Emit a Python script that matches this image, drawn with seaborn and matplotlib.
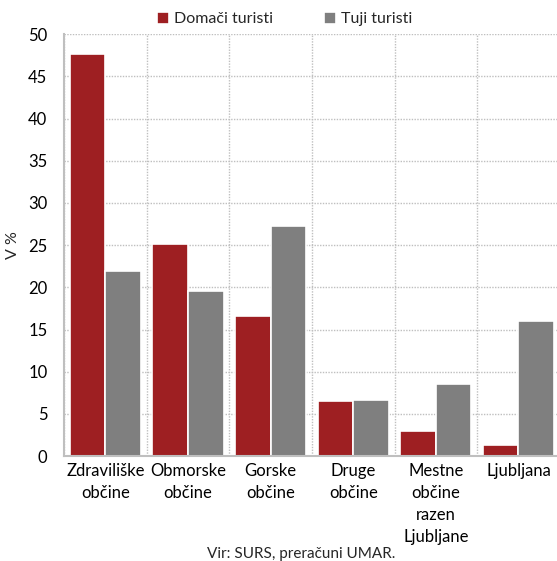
import pandas as pd
import seaborn as sns
import matplotlib.pyplot as plt
from matplotlib.ticker import MultipleLocator

# Podatki
kategorije = ["Zdraviliške\nobčine", "Obmorske\nobčine", "Gorske\nobčine",
              "Druge\nobčine", "Mestne\nobčine\nrazen\nLjubljane", "Ljubljana"]
domaci = [47.6, 25.1, 16.6, 6.5, 3.0, 1.3]
tuji = [21.9, 19.6, 27.3, 6.7, 8.5, 16.0]
serije = ["Domači turisti", "Tuji turisti"]
barve = ["#9E1F22", "#7F7F7F"]

df = pd.DataFrame({
    "Kategorija": kategorije * 2,
    "Vrednost": domaci + tuji,
    "Serija": [serije[0]] * len(domaci) + [serije[1]] * len(tuji),
})

sns.set_style("white")
plt.rcParams["font.family"] = ["Lato", "DejaVu Sans"]

fig = plt.figure(figsize=(5.57, 5.61), dpi=100)
ax = fig.add_axes([0.115, 0.187, 0.89, 0.752])

sns.barplot(data=df, x="Kategorija", y="Vrednost", hue="Serija",
            palette=barve, saturation=1, width=0.86, edgecolor="white",
            linewidth=1.2, ax=ax)

ax.set_ylim(0, 50)
ax.set_xlim(-0.5, len(kategorije) - 0.5)
ax.yaxis.set_major_locator(MultipleLocator(5))
ax.xaxis.set_minor_locator(MultipleLocator(1, offset=0.5))
ax.grid(axis="y", which="major", color="#BFBFBF", linestyle=(0, (1, 1)), linewidth=1)
ax.grid(axis="x", which="minor", color="#BFBFBF", linestyle=(0, (1, 1)), linewidth=1)
ax.set_axisbelow(True)
ax.tick_params(axis="both", which="both", length=0, labelsize=12, colors="#000000")
ax.tick_params(axis="x", pad=5)
ax.tick_params(axis="y", pad=12)
for lbl in ax.get_xticklabels():
    lbl.set_linespacing(1.45)

for s in ["top", "right"]:
    ax.spines[s].set_visible(False)
for s in ["left", "bottom"]:
    ax.spines[s].set_color("#BFBFBF")
    ax.spines[s].set_linewidth(1.5)

ax.set_xlabel("")
ax.set_ylabel("V %", fontsize=11.5, labelpad=6)

ax.legend(loc="lower center", bbox_to_anchor=(0.445, 1.0), ncol=2, frameon=False,
          fontsize=11.5, handlelength=0.75, handleheight=0.75, handletextpad=0.3,
          columnspacing=3.2, borderaxespad=0.1)

fig.text(0.54, 0.0, "Vir: SURS, preračuni UMAR.", ha="center", va="bottom", fontsize=11)

fig.savefig("out.png", dpi=100)
